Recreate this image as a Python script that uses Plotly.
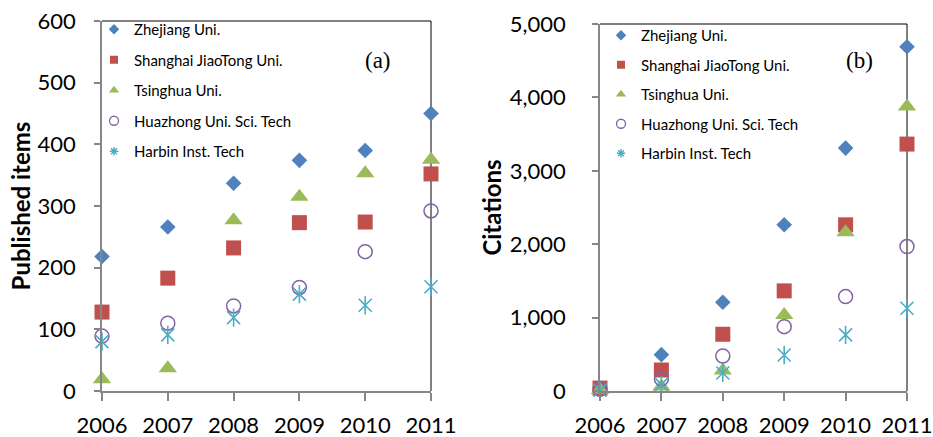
import plotly.graph_objects as go

years = [2006, 2007, 2008, 2009, 2010, 2011]
series_names = ["Zhejiang Uni.", "Shanghai JiaoTong Uni.", "Tsinghua Uni.",
                "Huazhong Uni. Sci. Tech", "Harbin Inst. Tech"]

# (a) Published items
pub_zhejiang = [218, 266, 337, 374, 390, 450]
pub_shanghai = [128, 183, 232, 273, 274, 352]
pub_tsinghua = [19, 37, 277, 315, 353, 375]
pub_huazhong = [89, 110, 138, 168, 226, 292]
pub_harbin = [80, 91, 119, 157, 139, 169]

# (b) Citations
cit_zhejiang = [40, 495, 1210, 2264, 3309, 4691]
cit_shanghai = [40, 286, 773, 1364, 2264, 3364]
cit_tsinghua = [15, 60, 280, 1036, 2164, 3877]
cit_huazhong = [25, 165, 477, 877, 1286, 1968]
cit_harbin = [10, 90, 245, 491, 764, 1127]

y_ticks_a = [0, 100, 200, 300, 400, 500, 600]
y_ticks_b = [0, 1000, 2000, 3000, 4000, 5000]

colors = ["#4F81BD", "#C0504D", "#9BBB59", "#8064A2", "#4BACC6"]
FONT = "Lato"

fig = go.Figure()


def marker_style(i, legend=False):
    if i == 0:
        return dict(symbol="diamond", size=8 if legend else 12, color=colors[0])
    if i == 1:
        return dict(symbol="square", size=8 if legend else 15, color=colors[1])
    if i == 2:
        return dict(symbol="triangle-up", size=9 if legend else 16, color=colors[2])
    if i == 3:
        return dict(symbol="circle-open", size=9 if legend else 14, color=colors[3],
                    line=dict(width=1.5 if not legend else 1.3, color=colors[3]))
    return dict(symbol="asterisk-open", size=7 if legend else 12, color=colors[4],
                line=dict(width=1.4, color=colors[4]))


def add_panel(data, xa, ya, legend_name):
    for i, (name, vals) in enumerate(zip(series_names, data)):
        if i == 4:
            for sym in ["x-thin-open", "line-ns-open"]:
                fig.add_trace(go.Scatter(
                    x=years, y=vals, mode="markers", name=name, showlegend=False,
                    xaxis=xa, yaxis=ya, cliponaxis=False,
                    marker=dict(symbol=sym, size=13, color=colors[4],
                                line=dict(width=1.6, color=colors[4]))))
        else:
            fig.add_trace(go.Scatter(
                x=years, y=vals, mode="markers", name=name, showlegend=False,
                xaxis=xa, yaxis=ya, cliponaxis=False, marker=marker_style(i)))
    for i, name in enumerate(series_names):
        fig.add_trace(go.Scatter(
            x=[None], y=[None], mode="markers", name=name, legend=legend_name,
            legendgroup=legend_name + str(i), xaxis=xa, yaxis=ya,
            marker=marker_style(i, legend=True)))


add_panel([pub_zhejiang, pub_shanghai, pub_tsinghua, pub_huazhong, pub_harbin],
          "x", "y", "legend")
add_panel([cit_zhejiang, cit_shanghai, cit_tsinghua, cit_huazhong, cit_harbin],
          "x2", "y2", "legend2")

W, H = 933, 437
xa_dom = [102 / W, 431 / W]
xb_dom = [600 / W, 907 / W]
ya_dom = [1 - 391 / H, 1 - 21 / H]
yb_dom = [1 - 391 / H, 1 - 24 / H]

axis_common = dict(showline=True, linecolor="#868686", linewidth=1.5,
                   ticks="outside", tickcolor="#868686", tickwidth=1.5,
                   showgrid=False, zeroline=False, automargin=False,
                   tickfont=dict(family=FONT, size=22, color="#000000"))

xaxis_common = dict(axis_common, range=[2006, 2011], tickmode="array",
                    tickvals=years, ticktext=[str(y) for y in years],
                    ticklen=8, ticklabelstandoff=6)

fig.update_layout(
    width=W, height=H, margin=dict(l=0, r=0, t=0, b=0),
    paper_bgcolor="white", plot_bgcolor="white",
    xaxis=dict(xaxis_common, domain=xa_dom, anchor="y"),
    xaxis2=dict(xaxis_common, domain=xb_dom, anchor="y2"),
    yaxis=dict(axis_common, domain=ya_dom, anchor="x", range=[0, 600],
               tickmode="array", tickvals=y_ticks_a, ticklen=6,
               ticklabelstandoff=14,
               title=dict(text="<b>Published items</b>", standoff=0,
                          font=dict(family=FONT, size=24, color="#000000"))),
    yaxis2=dict(axis_common, domain=yb_dom, anchor="x2", range=[0, 5000],
                tickmode="array", tickvals=y_ticks_b, tickformat=",",
                ticklen=6, ticklabelstandoff=22,
                title=dict(text="<b>Citations</b>", standoff=1,
                           font=dict(family=FONT, size=24, color="#000000"))),
    legend=dict(x=94 / W, y=1 - 13 / H, xanchor="left", yanchor="top",
                traceorder="grouped", tracegroupgap=8, bgcolor="rgba(0,0,0,0)",
                font=dict(family=FONT, size=15, color="#000000"),
                itemsizing="trace"),
    legend2=dict(x=601 / W, y=1 - 19 / H, xanchor="left", yanchor="top",
                 traceorder="grouped", tracegroupgap=7, bgcolor="rgba(0,0,0,0)",
                 font=dict(family=FONT, size=15, color="#000000"),
                 itemsizing="trace"),
    showlegend=True,
)

for xa, ya in [("x", "y"), ("x2", "y2")]:
    fig.add_shape(type="path", path="M 0 1 L 1 1 L 1 0", xref=xa + " domain",
                  yref=ya + " domain", line=dict(color="#000000", width=1),
                  layer="below")

fig.add_annotation(text="(a)", x=378 / W, y=1 - 60 / H, xref="paper", yref="paper",
                   xanchor="center", yanchor="middle", showarrow=False,
                   font=dict(family="Liberation Serif", size=23, color="#000000"))
fig.add_annotation(text="(b)", x=859 / W, y=1 - 60 / H, xref="paper", yref="paper",
                   xanchor="center", yanchor="middle", showarrow=False,
                   font=dict(family="Liberation Serif", size=23, color="#000000"))

fig.write_html("out.html", config={"displayModeBar": False},
               post_script="document.body.style.margin='0';")
